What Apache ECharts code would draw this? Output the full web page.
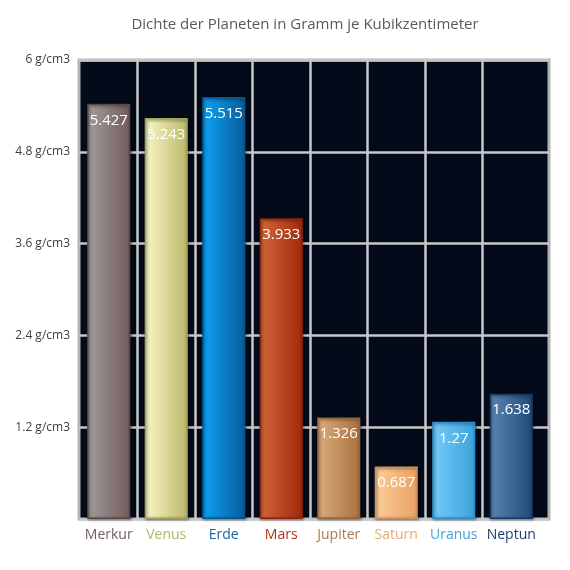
<!DOCTYPE html>
<html>
<head>
<meta charset="utf-8">
<script src="https://cdn.jsdelivr.net/npm/echarts@6/dist/echarts.min.js"></script>
<style>
  html, body { margin: 0; padding: 0; background: #fff; }
  #chart { width: 570px; height: 570px; }
</style>
</head>
<body>
<div id="chart"></div>
<script>
// Planeten und Dichte (g/cm3)
const planets = ['Merkur', 'Venus', 'Erde', 'Mars', 'Jupiter', 'Saturn', 'Uranus', 'Neptun']
const density = [5.427, 5.243, 5.515, 3.933, 1.326, 0.687, 1.27, 1.638]
const yTicks = [0, 1.2, 2.4, 3.6, 4.8, 6]

// Farben je Planet: [links, rechts, Rand, Beschriftung]
const barColors = [
  ['#a09e9e', '#735a5a', '#5e4646', '#735f5f'],
  ['#faf8c8', '#b9b868', '#a4a35a', '#b5b565'],
  ['#0ca3f4', '#0a5c9c', '#0a5590', '#1a65a5'],
  ['#d4683a', '#a0280a', '#8e2410', '#b03314'],
  ['#dcae7e', '#a8703e', '#96653a', '#aa7a4c'],
  ['#fdcd9c', '#e8a262', '#d0915c', '#e8aa72'],
  ['#76ccf8', '#3aa2dc', '#2c8ed0', '#42a2d8'],
  ['#5e86b4', '#1e4878', '#1a3a62', '#1f3c6c']
]

const chart = echarts.init(document.getElementById('chart'))

const data = density.map((v, i) => ({
  value: v,
  itemStyle: {
    color: new echarts.graphic.LinearGradient(0, 0, 1, 0, [
      { offset: 0, color: barColors[i][0] },
      { offset: 1, color: barColors[i][1] }
    ]),
    borderColor: barColors[i][2],
    borderWidth: 1.5,
    shadowColor: 'rgba(0,0,0,0.5)',
    shadowBlur: 3,
    shadowOffsetX: 1,
    shadowOffsetY: 1
  }
}))

const gridLine = { color: '#c8c8c8', width: 2.5 }
const yMin = yTicks[0]
const yMax = yTicks[yTicks.length - 1]

chart.setOption({
  backgroundColor: '#fff',
  textStyle: { fontFamily: 'Open Sans, sans-serif' },
  title: {
    text: 'Dichte der Planeten in Gramm je Kubikzentimeter',
    left: 300,
    textAlign: 'center',
    top: 12,
    textStyle: { fontSize: 15, fontWeight: 'normal', color: '#595959' }
  },
  // Grid 0: Hintergrund, Rahmen, horizontale Linien; Grid 1: Kategorien + Balken
  grid: [
    {
      left: 79, right: 21, top: 60, bottom: 51,
      show: true,
      backgroundColor: '#030a1a',
      borderColor: '#b4b4b4',
      borderWidth: 3
    },
    { left: 80, right: 30, top: 60, bottom: 51 }
  ],
  xAxis: [
    { type: 'value', gridIndex: 0, show: false },
    {
      type: 'category',
      gridIndex: 1,
      data: planets,
      axisLine: { show: false },
      axisTick: { show: false },
      splitLine: { show: true, interval: 0, showMinLine: false, showMaxLine: false, lineStyle: gridLine },
      axisLabel: {
        interval: 0,
        fontSize: 14,
        margin: 9,
        color: (val, idx) => barColors[idx][3]
      }
    }
  ],
  yAxis: [
    {
      type: 'value',
      gridIndex: 0,
      min: yMin,
      max: yMax,
      interval: 1.2,
      axisLine: { show: false },
      axisTick: { show: false },
      splitLine: { show: true, lineStyle: gridLine },
      axisLabel: {
        fontSize: 12,
        color: '#404040',
        margin: 9,
        formatter: v => (v === 0 ? '' : `${+v.toFixed(1)} g/cm3`)
      }
    },
    { type: 'value', gridIndex: 1, min: yMin, max: yMax, show: false, splitLine: { show: false } }
  ],
  series: [{
    type: 'bar',
    xAxisIndex: 1,
    yAxisIndex: 1,
    data,
    barWidth: '75%',
    label: {
      show: true,
      position: 'insideTop',
      distance: 9,
      color: '#fff',
      fontSize: 15,
      formatter: p => String(p.value)
    }
  }]
})
</script>
</body>
</html>
